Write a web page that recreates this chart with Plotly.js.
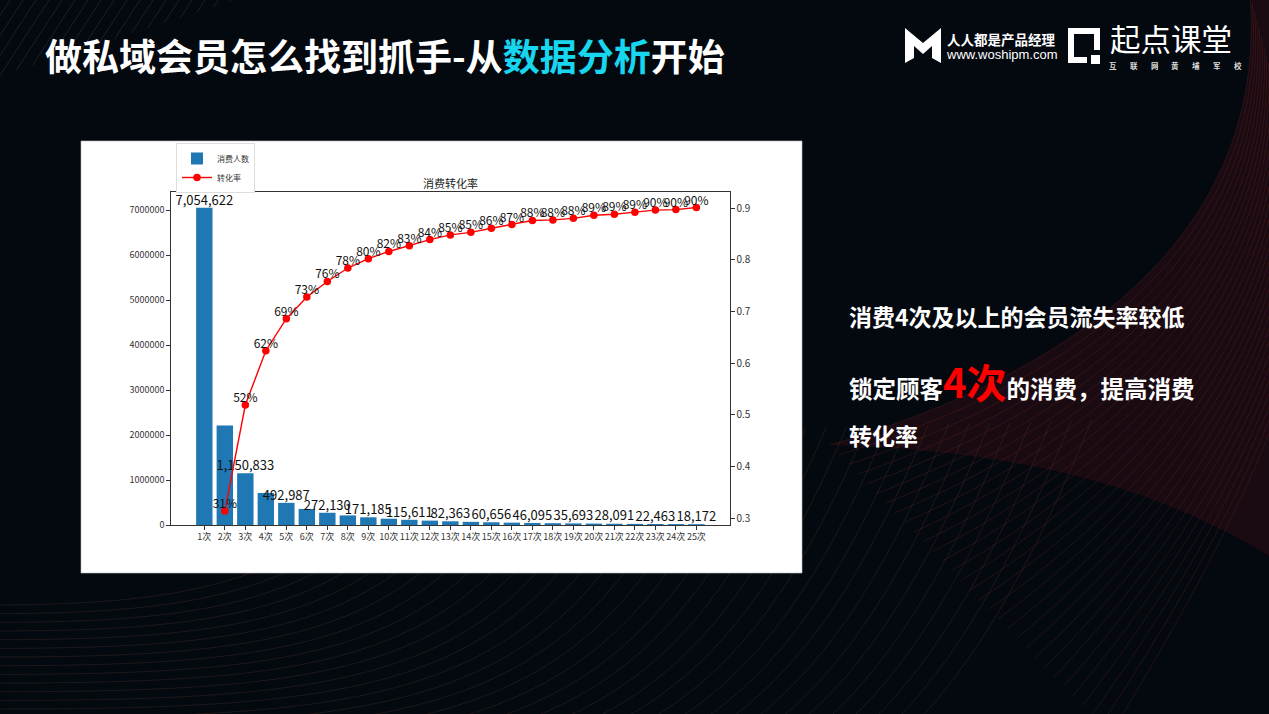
<!DOCTYPE html>
<html>
<head>
<meta charset="utf-8">
<script src="https://cdn.plot.ly/plotly-3.0.1.min.js"></script>
<style>
html,body{margin:0;padding:0;background:#04080f;overflow:hidden}
#chart{width:1269px;height:714px}
</style>
</head>
<body>
<div id="chart"></div>
<script>
// ---------------- data ----------------
const categories = ['1次','2次','3次','4次','5次','6次','7次','8次','9次','10次','11次','12次','13次','14次','15次','16次','17次','18次','19次','20次','21次','22次','23次','24次','25次'];
const memberCounts = [7054622, 2213000, 1150833, 712000, 492987, 358000, 272130, 213000, 171185, 139800, 115611, 97000, 82363, 70300, 60656, 52550, 46095, 40560, 35693, 31650, 28091, 24980, 22463, 20200, 18172];
const countLabels = ['7,054,622','','1,150,833','','492,987','','272,130','','171,185','','115,611','','82,363','','60,656','','46,095','','35,693','','28,091','','22,463','','18,172'];
const rateCategories = ['2次','3次','4次','5次','6次','7次','8次','9次','10次','11次','12次','13次','14次','15次','16次','17次','18次','19次','20次','21次','22次','23次','24次','25次'];
const conversionRates = [0.314, 0.519, 0.624, 0.686, 0.728, 0.758, 0.784, 0.802, 0.816, 0.827, 0.839, 0.848, 0.853, 0.861, 0.868, 0.876, 0.877, 0.880, 0.886, 0.888, 0.892, 0.896, 0.897, 0.901];
const rateLabels = ['31%','52%','62%','69%','73%','76%','78%','80%','82%','83%','84%','85%','85%','86%','87%','88%','88%','88%','89%','89%','89%','90%','90%','90%'];
const leftTicks = [0, 1000000, 2000000, 3000000, 4000000, 5000000, 6000000, 7000000];
const rightTicks = [0.3, 0.4, 0.5, 0.6, 0.7, 0.8, 0.9];

// ---------------- helpers (page pixels -> paper) ----------------
const W = 1269, H = 714;
const fx = x => x / W;
const fy = y => 1 - y / H;
const P = (x, y) => fx(x).toFixed(5) + ',' + fy(y).toFixed(5);
const lerp = (a, b, t) => a + (b - a) * t;

const CJK = '"Noto Sans CJK SC", "Noto Sans", sans-serif';
const shapes = [];

// top-left diagonal stripes
for (let xt = 10; xt <= 235; xt += 13) {
  const L = Math.min(xt / 0.65, (1 - xt / 235) / (1/235*0.65 + 1/130));
  shapes.push({type:'path', xref:'paper', yref:'paper', layer:'below',
    path: 'M' + P(xt, 0) + 'L' + P(xt - 0.65 * L, L),
    line:{color:'rgba(95,85,85,0.32)', width:1}});
}

// reddish tint at right
shapes.push({type:'path', xref:'paper', yref:'paper', layer:'below',
  path: 'M' + P(830,445) + 'C' + P(1050,380) + ' ' + P(1270,250) + ' ' + P(1250,-5) +
        'L' + P(1275,-5) + 'L' + P(1275,560) + 'C' + P(1150,480) + ' ' + P(1000,450) + ' ' + P(830,445) + 'Z',
  fillcolor:'rgba(45,12,20,0.55)', line:{width:0}});

// bottom-left wave lines
for (let i = 0; i <= 34; i++) {
  const t = i / 34;
  const yh = lerp(605, 900, t), xb = lerp(330, 900, t), ye = lerp(440, 420, t);
  shapes.push({type:'path', xref:'paper', yref:'paper', layer:'below',
    path: 'M' + P(-10, yh) + 'C' + P(xb - 150, yh) + ' ' + P(xb, yh - 20) + ' ' + P(xb + 0.4 * (yh - ye), ye),
    line:{color:'rgba(90,58,45,0.3)', width:1}});
}
// right wave lines
for (let j = 0; j <= 30; j++) {
  const t = j / 30;
  shapes.push({type:'path', xref:'paper', yref:'paper', layer:'below',
    path: 'M' + P(lerp(830,1110,t), lerp(445,735,t)) + 'C' + P(lerp(1050,1180,t), lerp(380,620,t)) + ' ' +
          P(lerp(1270,1300,t), lerp(250,420,t)) + ' ' + P(lerp(1250,1320,t), lerp(-5,250,t)),
    line:{color:'rgba(105,40,38,0.32)', width:1}});
}

// white chart panel
shapes.push({type:'rect', xref:'paper', yref:'paper', layer:'below',
  x0: fx(81), x1: fx(802), y0: fy(573), y1: fy(141),
  fillcolor:'#ffffff', line:{color:'rgba(190,190,190,0.6)', width:1}});

// logo: M icon
shapes.push({type:'path', xref:'paper', yref:'paper', layer:'above',
  path: 'M' + P(905,28) + 'L' + P(923,43) + 'L' + P(941,28) + 'L' + P(941,63) + 'L' + P(932,58) + 'L' + P(932,46) +
        'L' + P(923,54) + 'L' + P(914,46) + 'L' + P(914,58) + 'L' + P(905,63) + 'Z',
  fillcolor:'#ffffff', line:{width:0}});
// logo: square icon
shapes.push({type:'path', xref:'paper', yref:'paper', layer:'above',
  path: 'M' + P(1087,60) + 'L' + P(1071,60) + 'L' + P(1071,31) + 'L' + P(1097,31) + 'L' + P(1097,50),
  line:{color:'#ffffff', width:6}});
shapes.push({type:'rect', xref:'paper', yref:'paper', layer:'above',
  x0: fx(1091), x1: fx(1100), y0: fy(64), y1: fy(55), fillcolor:'#ffffff', line:{width:0}});

// ---------------- annotations ----------------
const annotations = [
  {xref:'paper', yref:'paper', x: fx(43), y: fy(55), xanchor:'left', yanchor:'middle', showarrow:false,
   text:'<b>做私域会员怎么找到抓手-从<span style="color:#17d6ee">数据分析</span>开始</b>',
   font:{family:CJK, size:37, color:'#ffffff'}},
  {xref:'paper', yref:'paper', x: fx(945), y: fy(39), xanchor:'left', yanchor:'middle', showarrow:false,
   text:'<b>人人都是产品经理</b>', font:{family:CJK, size:13.5, color:'#ffffff'}},
  {xref:'paper', yref:'paper', x: fx(944), y: fy(55), xanchor:'left', yanchor:'middle', showarrow:false,
   text:'www.woshipm.com', font:{family:'"Liberation Sans", Arial, sans-serif', size:13, color:'#ffffff'}},
  {xref:'paper', yref:'paper', x: fx(1108), y: fy(38), xanchor:'left', yanchor:'middle', showarrow:false,
   height:32, text:'起点课堂', font:{family:CJK, size:30.5, color:'#ffffff'}},
  {xref:'paper', yref:'paper', x: fx(450.3), y: fy(183), xanchor:'center', yanchor:'middle', showarrow:false,
   text:'消费转化率', font:{family:CJK, size:11, color:'#222222'}},
  {xref:'paper', yref:'paper', x: fx(847), y: fy(316), xanchor:'left', yanchor:'middle', showarrow:false,
   text:'<b>消费4次及以上的会员流失率较低</b>', font:{family:CJK, size:23, color:'#ffffff'}},
  {xref:'paper', yref:'paper', x: fx(847), y: fy(381), xanchor:'left', yanchor:'middle', showarrow:false,
   text:'<b>锁定顾客<span style="color:#ff0000;font-size:40px">4次</span>的消费，提高消费</b>', font:{family:CJK, size:23.5, color:'#ffffff'}},
  {xref:'paper', yref:'paper', x: fx(847), y: fy(435), xanchor:'left', yanchor:'middle', showarrow:false,
   text:'<b>转化率</b>', font:{family:CJK, size:23, color:'#ffffff'}}
];
const slogan = '互联网黄埔军校';
for (let k = 0; k < slogan.length; k++) {
  annotations.push({xref:'paper', yref:'paper', x: fx(1113 + k * 20.8), y: fy(65), xanchor:'center', yanchor:'middle',
    showarrow:false, height:9, text:'<b>' + slogan[k] + '</b>', font:{family:CJK, size:7.5, color:'#dddddd'}});
}

// ---------------- traces ----------------
const barTrace = {
  type:'bar', name:'消费人数', x: categories, y: memberCounts,
  marker:{color:'#1f77b4'}, hoverinfo:'skip'
};
const barText = {
  type:'scatter', mode:'text', x: categories, y: memberCounts, text: countLabels,
  textposition:'top center', textfont:{family:CJK, size:13, color:'#111111'},
  showlegend:false, hoverinfo:'skip', cliponaxis:false
};
const rateTrace = {
  type:'scatter', mode:'lines+markers', name:'转化率', x: rateCategories, y: conversionRates, yaxis:'y2',
  line:{color:'#ff0000', width:1.4}, marker:{color:'#ff0000', size:7.5},
  hoverinfo:'skip', cliponaxis:false
};
const rateText = {
  type:'scatter', mode:'text', x: rateCategories, y: conversionRates, yaxis:'y2',
  text: rateLabels, textposition:'top center', textfont:{family:CJK, size:12, color:'#111111'},
  showlegend:false, hoverinfo:'skip', cliponaxis:false
};

const axisLine = {showline:true, linecolor:'#333333', linewidth:1, ticks:'outside', ticklen:3.5, tickcolor:'#333333',
  showgrid:false, zeroline:false};

const layout = {
  width: W, height: H, margin:{l:0, r:0, t:0, b:0},
  paper_bgcolor:'#04080f', plot_bgcolor:'#ffffff',
  hovermode:false, bargap:0.2, showlegend:true,
  xaxis: Object.assign({}, axisLine, {
    domain:[fx(170.7), fx(730)], type:'category', categoryorder:'array', categoryarray: categories,
    range:[-1.64, 24 + 1.64], mirror:true, tickangle:0,
    tickfont:{family:CJK, size:9, color:'#333333'}
  }),
  yaxis: Object.assign({}, axisLine, {
    domain:[fy(525), fy(192)], range:[0, 7054622 * 1.05],
    tickvals: leftTicks, tickformat:'d',
    tickfont:{family:CJK, size:9, color:'#333333'}
  }),
  yaxis2: Object.assign({}, axisLine, {
    overlaying:'y', side:'right', anchor:'x', range:[0.287, 0.931],
    tickvals: rightTicks, tickformat:'.1f',
    tickfont:{family:CJK, size:10, color:'#333333'}
  }),
  legend:{x: fx(176), y: fy(143), xanchor:'left', yanchor:'top', bgcolor:'#ffffff',
    bordercolor:'#dddddd', borderwidth:1, font:{family:CJK, size:8, color:'#333333'},
    itemwidth:30, tracegroupgap:0},
  shapes: shapes,
  annotations: annotations
};

Plotly.newPlot('chart', [barTrace, barText, rateTrace, rateText], layout, {staticPlot:true, displayModeBar:false});
</script>
</body>
</html>
